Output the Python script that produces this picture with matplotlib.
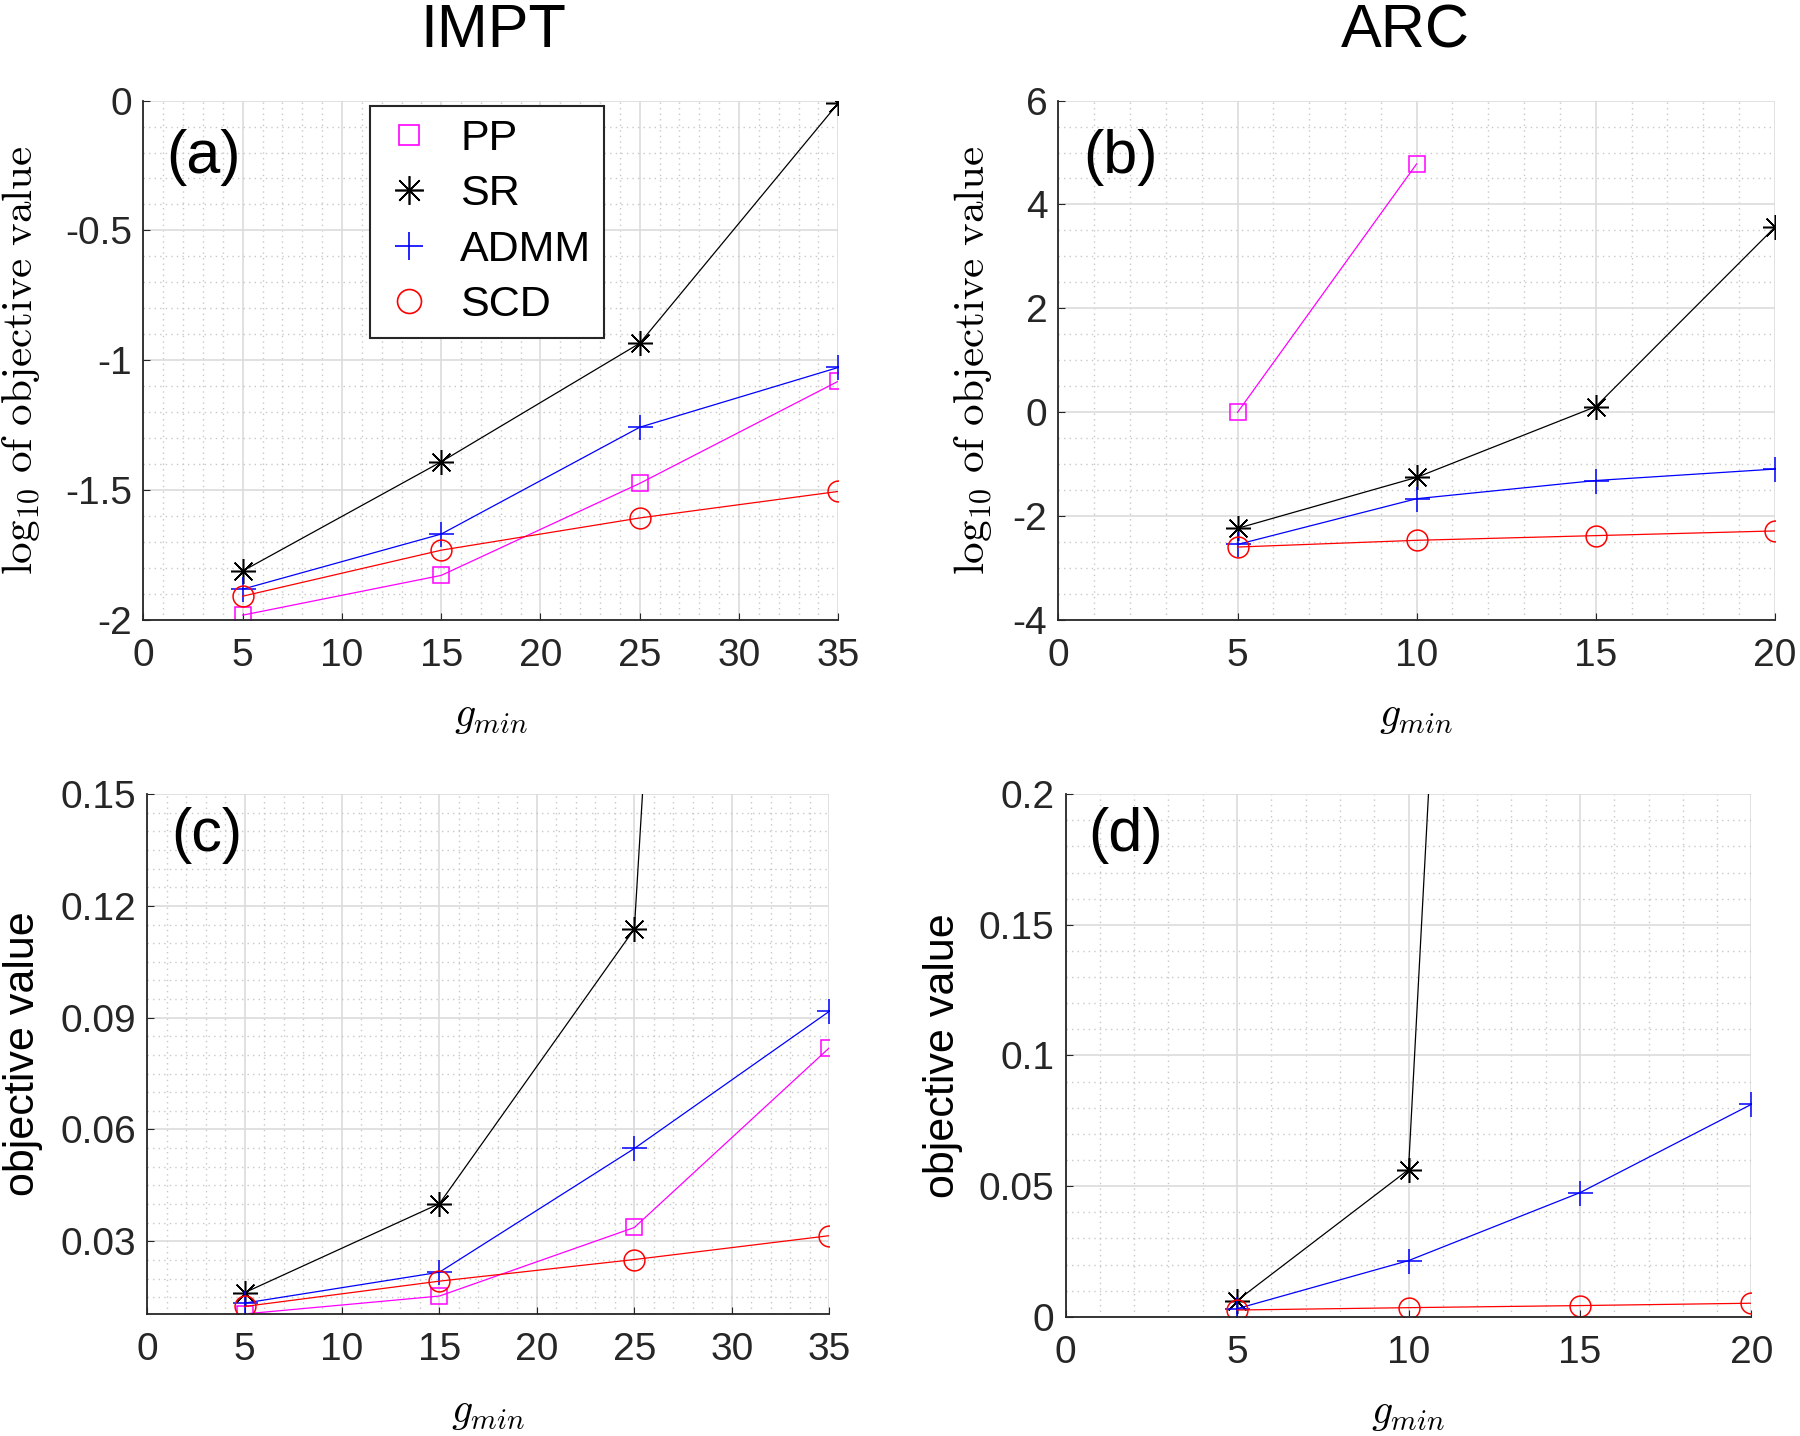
import numpy as np
import matplotlib
matplotlib.use("Agg")
from matplotlib import pyplot as plt
from matplotlib.lines import Line2D
from matplotlib.ticker import MultipleLocator

plt.rcParams['font.family'] = ['Liberation Sans', 'DejaVu Sans']
plt.rcParams['mathtext.fontset'] = 'cm'

# x values
g_impt = [5, 15, 25, 35]
g_arc = [5, 10, 15, 20]

# (a) IMPT, log10 of objective value
impt_log_pp = [-1.98, -1.827, -1.473, -1.08]
impt_log_sr = [-1.81, -1.39, -0.934, -0.01]
impt_log_admm = [-1.88, -1.668, -1.257, -1.027]
impt_log_scd = [-1.907, -1.73, -1.606, -1.504]

# (b) ARC, log10 of objective value
arc_log_pp = [0.0, 4.78, np.nan, np.nan]
arc_log_sr = [-2.23, -1.25, 0.11, 3.56]
arc_log_admm = [-2.54, -1.66, -1.31, -1.09]
arc_log_scd = [-2.59, -2.46, -2.37, -2.28]

# (c) IMPT, objective value
impt_pp = [0.0105, 0.0153, 0.0337, 0.0819]
impt_sr = [0.0162, 0.0401, 0.1138, 0.98]
impt_admm = [0.0134, 0.0217, 0.0549, 0.0917]
impt_scd = [0.0125, 0.0193, 0.0251, 0.0315]

# (d) ARC, objective value
arc_pp = [1.0, 60000.0, np.nan, np.nan]
arc_sr = [0.0062, 0.0563, 1.29, 3600.0]
arc_admm = [0.0031, 0.0215, 0.0475, 0.0813]
arc_scd = [0.0026, 0.0035, 0.0043, 0.0052]

names = ['PP', 'SR', 'ADMM', 'SCD']
colors = ['#ff00ff', 'black', 'blue', 'red']
markers = ['s', (8, 2, 0), '+', 'o']
msizes = [12, 18, 18, 15]

fig = plt.figure(figsize=(18, 14.36), dpi=100)

ax_a = fig.add_axes([0.0797, 0.568, 0.386, 0.362])
ax_b = fig.add_axes([0.588, 0.568, 0.398, 0.362])
ax_c = fig.add_axes([0.0817, 0.085, 0.379, 0.362])
ax_d = fig.add_axes([0.592, 0.083, 0.381, 0.364])


def draw(ax, x, series):
    for y, c, m, s in zip(series, colors, markers, msizes):
        ax.plot(x, y, color=c, lw=0.9, marker=m, markersize=s,
                markerfacecolor='none', markeredgecolor=c, markeredgewidth=1.1)


def style(ax, xmax, ylim, ymaj, ymin):
    ax.set_xlim(0, xmax)
    ax.set_ylim(*ylim)
    ax.xaxis.set_major_locator(MultipleLocator(5))
    ax.xaxis.set_minor_locator(MultipleLocator(1))
    ax.yaxis.set_major_locator(MultipleLocator(ymaj))
    ax.yaxis.set_minor_locator(MultipleLocator(ymin))
    ax.grid(which='major', color='#dcdcdc', lw=1.2, ls='-')
    ax.grid(which='minor', color='#c8c8c8', lw=1.0, ls=(0, (1, 3)))
    ax.set_axisbelow(True)
    for s in ['top', 'right']:
        ax.spines[s].set_visible(False)
    for s in ['left', 'bottom']:
        ax.spines[s].set_color('#262626')
        ax.spines[s].set_linewidth(1.3)
    ax.tick_params(which='both', direction='in', colors='#262626', labelsize=28)
    ax.tick_params(axis='x', which='major', pad=13, length=5)
    ax.tick_params(axis='y', which='major', pad=8, length=5)
    ax.tick_params(which='minor', length=0)
    ax.set_xlabel(r'$g_{min}$', fontsize=30)
    ax.xaxis.set_label_coords(0.5, -0.145)


draw(ax_a, g_impt, [impt_log_pp, impt_log_sr, impt_log_admm, impt_log_scd])
style(ax_a, 35, (-2, 0), 0.5, 0.1)
ax_a.set_yticks([-2, -1.5, -1, -0.5, 0])
ax_a.set_yticklabels(['-2', '-1.5', '-1', '-0.5', '0'])

draw(ax_b, g_arc, [arc_log_pp, arc_log_sr, arc_log_admm, arc_log_scd])
style(ax_b, 20, (-4, 6), 2, 0.5)
ax_b.set_yticks([-4, -2, 0, 2, 4, 6])
ax_b.set_yticklabels(['-4', '-2', '0', '2', '4', '6'])

draw(ax_c, g_impt, [impt_pp, impt_sr, impt_admm, impt_scd])
style(ax_c, 35, (0.0105, 0.15), 0.03, 0.005)
ax_c.set_yticks([0.03, 0.06, 0.09, 0.12, 0.15])
ax_c.set_yticklabels(['0.03', '0.06', '0.09', '0.12', '0.15'])
ax_c.xaxis.set_label_coords(0.5, -0.15)

draw(ax_d, g_arc, [arc_pp, arc_sr, arc_admm, arc_scd])
style(ax_d, 20, (0, 0.2), 0.05, 0.01)
ax_d.set_yticks([0, 0.05, 0.1, 0.15, 0.2])
ax_d.set_yticklabels(['0', '0.05', '0.1', '0.15', '0.2'])
ax_d.xaxis.set_label_coords(0.5, -0.145)

ylab_log = r'$\mathrm{log}_{10}\ \mathrm{of\ objective\ value}$'
ax_a.set_ylabel(ylab_log, fontsize=31)
ax_a.yaxis.set_label_coords(-0.146, 0.5)
ax_b.set_ylabel(ylab_log, fontsize=31)
ax_b.yaxis.set_label_coords(-0.09, 0.5)
ax_c.set_ylabel('objective value', fontsize=31)
ax_c.yaxis.set_label_coords(-0.152, 0.5)
ax_d.set_ylabel('objective value', fontsize=31)
ax_d.yaxis.set_label_coords(-0.15, 0.5)

for ax, lab, ypos in [(ax_a, '(a)', 0.89), (ax_b, '(b)', 0.89),
                      (ax_c, '(c)', 0.92), (ax_d, '(d)', 0.92)]:
    ax.text(0.087, ypos, lab, transform=ax.transAxes, ha='center', va='center',
            fontsize=44, color='black')

handles = [Line2D([], [], ls='none', color=c, marker=m, markersize=s * 1.15,
                  markerfacecolor='none', markeredgewidth=1.2)
           for c, m, s in zip(colors, markers, msizes)]
leg = ax_a.legend(handles, names, loc='upper left', bbox_to_anchor=(0.326, 0.99),
                  fontsize=31, frameon=True, fancybox=False, framealpha=1,
                  edgecolor='#262626', handlelength=1.2, handletextpad=0.6,
                  borderpad=0.3, labelspacing=0.36, borderaxespad=0)
leg.get_frame().set_linewidth(1.5)

fig.text(0.274, 0.978, 'IMPT', ha='center', va='center', fontsize=44)
fig.text(0.781, 0.978, 'ARC', ha='center', va='center', fontsize=44)

fig.savefig('out.png', dpi=100)
